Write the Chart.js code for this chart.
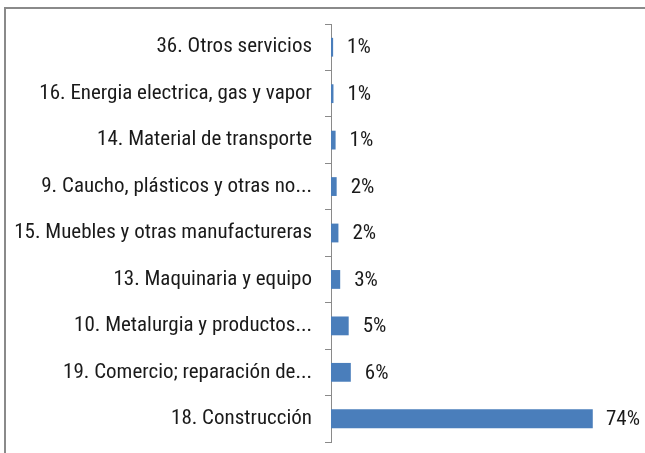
<!DOCTYPE html>
<html>
<head>
<meta charset="utf-8">
<script src="https://cdn.jsdelivr.net/npm/chart.js@4"></script>
<style>
  html, body { margin: 0; padding: 0; background: #fff; }
  canvas { display: block; }
</style>
</head>
<body>
<canvas id="chart" width="645" height="453"></canvas>
<script>
const categorias = [
    '36. Otros servicios',
    '16. Energia electrica, gas y vapor',
    '14. Material de transporte',
    '9. Caucho, plásticos y otras no...',
    '15. Muebles y otras manufactureras',
    '13. Maquinaria y equipo',
    '10. Metalurgia y productos...',
    '19. Comercio; reparación de...',
    '18. Construcción',
];

const porcentajes = [0.6, 0.7, 1.3, 1.6, 2.1, 2.6, 5.0, 5.6, 74];
const etiquetas = ['1%', '1%', '1%', '2%', '2%', '3%', '5%', '6%', '74%'];

const fuente = "'Roboto Condensed', 'DejaVu Sans Condensed', sans-serif";

// marco gris y etiquetas de datos
const marco = {
    id: 'marco',
    beforeDraw(chart) {
        const ctx = chart.ctx;
        ctx.save();
        ctx.fillStyle = '#8a8a8a';
        ctx.fillRect(4, 7, chart.width, 2);
        ctx.fillRect(4, 7, 2, chart.height);
        ctx.restore();
    },
    afterDatasetsDraw(chart) {
        const ctx = chart.ctx;
        const meta = chart.getDatasetMeta(0);
        ctx.save();
        ctx.font = '21px ' + fuente;
        ctx.fillStyle = '#1a1a1a';
        ctx.textAlign = 'left';
        ctx.textBaseline = 'middle';
        meta.data.forEach((bar, i) => {
            const txt = etiquetas[i];
            const w = ctx.measureText(txt).width;
            let x = bar.x + 14;
            if (x + w > chart.width - 5) x = chart.width - 5 - w;
            ctx.fillText(txt, x, bar.y + 1);
        });
        ctx.restore();
    }
};

new Chart(document.getElementById('chart'), {
    type: 'bar',
    data: {
        labels: categorias,
        datasets: [{
            data: porcentajes,
            backgroundColor: '#4a7ebb',
            barPercentage: 0.45,
            categoryPercentage: 0.9
        }]
    },
    options: {
        indexAxis: 'y',
        responsive: false,
        animation: false,
        layout: { padding: { top: 24, right: 31, bottom: 11, left: 0 } },
        plugins: {
            legend: { display: false },
            tooltip: { enabled: false }
        },
        scales: {
            x: {
                display: false,
                min: 0,
                max: 80
            },
            y: {
                afterFit(scale) {
                    scale.width = 331;
                    scale.paddingTop = 0;
                    scale.paddingBottom = 0;
                },
                border: { color: '#8a8a8a', width: 1 },
                grid: {
                    drawOnChartArea: false,
                    tickLength: 6,
                    color: '#8a8a8a'
                },
                ticks: {
                    padding: 13,
                    color: '#1a1a1a',
                    font: { family: fuente, size: 21 }
                }
            }
        }
    },
    plugins: [marco]
});
</script>
</body>
</html>
